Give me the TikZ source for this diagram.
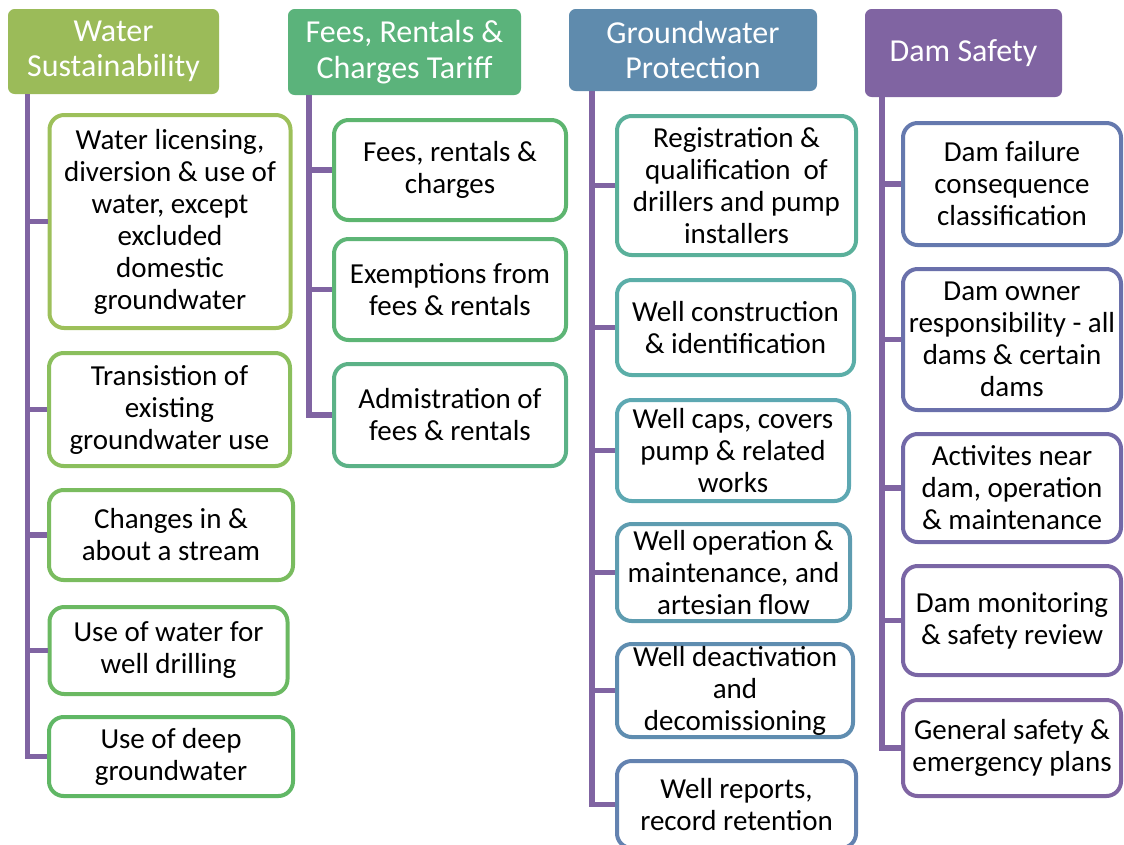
\documentclass[tikz,border=0pt]{standalone}
\usepackage{fontspec}
\setmainfont{Carlito}
\definecolor{trunkc}{HTML}{8064A2}
\definecolor{hA}{HTML}{9BBB59}
\definecolor{hB}{HTML}{5BB37B}
\definecolor{hC}{HTML}{5F8BAD}
\definecolor{hD}{HTML}{8064A2}
\definecolor{cA1}{HTML}{9DC05A}
\definecolor{cA2}{HTML}{8BBF5D}
\definecolor{cA3}{HTML}{7ABC5F}
\definecolor{cA4}{HTML}{6BB962}
\definecolor{cA5}{HTML}{60B765}
\definecolor{cB1}{HTML}{5DB56F}
\definecolor{cB2}{HTML}{5DB576}
\definecolor{cB3}{HTML}{5CB287}
\definecolor{cC1}{HTML}{5AB09A}
\definecolor{cC2}{HTML}{5BAEA8}
\definecolor{cC3}{HTML}{5DA8B2}
\definecolor{cC4}{HTML}{5E9CB0}
\definecolor{cC5}{HTML}{5F8DB0}
\definecolor{cC6}{HTML}{6382B0}
\definecolor{cD1}{HTML}{6579AE}
\definecolor{cD2}{HTML}{6A70AB}
\definecolor{cD3}{HTML}{7269A8}
\definecolor{cD4}{HTML}{7A66A5}
\definecolor{cD5}{HTML}{7F64A2}
\tikzset{
  head/.style n args={3}{fill=#1, draw=none, rounded corners=5pt, text=white,
    align=center, inner sep=0pt,
    minimum width={#2*0.75pt}, minimum height={#3*0.75pt},
    font=\fontsize{24pt}{26.5pt}\selectfont},
  item/.style n args={3}{draw=#1, fill=white, line width=3pt, rounded corners=11pt,
    align=center, inner sep=0pt, text=black,
    minimum width={(#2-4)*0.75pt}, minimum height={(#3-4)*0.75pt},
    font=\fontsize{21.75pt}{24pt}\selectfont},
  trunk/.style={draw=trunkc, line width=3.8pt}
}
\begin{document}
\begin{tikzpicture}[x=0.75pt,y=-0.75pt]
\useasboundingbox (0,0) rectangle (1124,844);

% column headers
\node[head={hA}{211}{85}] (h1) at (113.5,51.5) {Water\\Sustainability};
\node[head={hB}{233}{86}] (h2) at (404.5,52) {Fees, Rentals \&\\Charges Tariff};
\node[head={hC}{248}{82}] (h3) at (693,50) {Groundwater\\Protection};
\node[head={hD}{197}{88}] (h4) at (963.5,53) {Dam Safety};

% trunk start points under each header
\coordinate (t1) at (27.5,94);
\coordinate (t2) at (309,95);
\coordinate (t3) at (592,91);
\coordinate (t4) at (882,97);

% Water Sustainability
\node[item={cA1}{245}{217}] (w1) at (170,221.5) {Water licensing,\\diversion \& use of\\water, except\\excluded\\domestic\\groundwater};
\node[item={cA2}{245}{117}] (w2) at (169.5,409.5) {Transistion of\\existing\\groundwater use};
\node[item={cA3}{248}{94}] (w3) at (171,535) {Changes in \&\\about a stream};
\node[item={cA4}{242}{91}] (w4) at (168.5,650.5) {Use of water for\\well drilling};
\node[item={cA5}{248}{83}] (w5) at (171,756.5) {Use of deep\\groundwater};

% Fees, Rentals & Charges Tariff
\node[item={cB1}{236}{104}] (f1) at (450,170) {Fees, rentals \&\\charges};
\node[item={cB2}{236}{105}] (f2) at (450,289.5) {Exemptions from\\fees \& rentals};
\node[item={cB3}{236}{106}] (f3) at (450,415) {Admistration of\\fees \& rentals};

% Groundwater Protection
\node[item={cC1}{243}{143}] (g1) at (736.5,185.5) {Registration \&\\qualification~ of\\drillers and pump\\installers};
\node[item={cC2}{241}{99}] (g2) at (735.5,327.5) {Well construction\\\& identification};
\node[item={cC3}{236}{105}] (g3) at (733,450.5) {Well caps, covers\\pump \& related\\works};
\node[item={cC4}{237}{101}] (g4) at (733.5,572.5) {Well operation \&\\maintenance, and\\artesian flow};
\node[item={cC5}{240}{97}] (g5) at (735,690.5) {Well deactivation\\and\\decomissioning};
\node[item={cC6}{243}{91}] (g6) at (736.5,804.5) {Well reports,\\record retention};

% Dam Safety
\node[item={cD1}{222}{126}] (d1) at (1012,184) {Dam failure\\consequence\\classification};
\node[item={cD2}{222}{145}] (d2) at (1012,339.5) {Dam owner\\responsibility - all\\dams \& certain\\dams};
\node[item={cD3}{222}{112}] (d3) at (1012,488) {Activites near\\dam, operation\\\& maintenance};
\node[item={cD4}{222}{113}] (d4) at (1012,620.5) {Dam monitoring\\\& safety review};
\node[item={cD5}{222}{100}] (d5) at (1012,748) {General safety \&\\emergency plans};

% connectors: vertical trunk with a branch to each box
\draw[trunk] (t1) |- (w5.west);
\foreach \n in {w1,w2,w3,w4} \draw[trunk] (t1 |- \n.west) -- (\n.west);
\draw[trunk] (t2) |- (f3.west);
\foreach \n in {f1,f2} \draw[trunk] (t2 |- \n.west) -- (\n.west);
\draw[trunk] (t3) |- (g6.west);
\foreach \n in {g1,g2,g3,g4,g5} \draw[trunk] (t3 |- \n.west) -- (\n.west);
\draw[trunk] (t4) |- (d5.west);
\foreach \n in {d1,d2,d3,d4} \draw[trunk] (t4 |- \n.west) -- (\n.west);
\end{tikzpicture}
\end{document}
